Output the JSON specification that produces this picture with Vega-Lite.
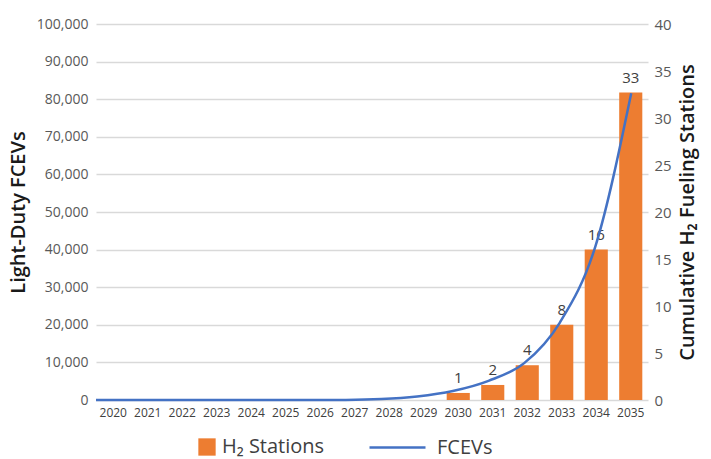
{
  "$schema": "https://vega.github.io/schema/vega-lite/v6.json",
  "width": 552,
  "height": 376,
  "padding": {"left": 8, "top": 17, "right": 12, "bottom": 0},
  "background": "white",
  "config": {
    "font": "Open Sans",
    "view": {"stroke": null},
    "axis": {"labelColor": "#595959", "titleColor": "#1a1a1a", "titleFontWeight": 600, "titleFontSize": 20, "ticks": false, "domain": false},
    "legend": {"labelFont": "Open Sans"}
  },
  "datasets": {
    "stations": [
      {"year": 2030, "stations": 0.75, "label": "1"},
      {"year": 2031, "stations": 1.6, "label": "2"},
      {"year": 2032, "stations": 3.7, "label": "4"},
      {"year": 2033, "stations": 8, "label": "8"},
      {"year": 2034, "stations": 16, "label": "16"},
      {"year": 2035, "stations": 32.7, "label": "33"}
    ],
    "fcev": [
      {"year": 2020, "fcev": 0},
      {"year": 2021, "fcev": 0},
      {"year": 2022, "fcev": 0},
      {"year": 2023, "fcev": 0},
      {"year": 2024, "fcev": 0},
      {"year": 2025, "fcev": 0},
      {"year": 2026, "fcev": 0},
      {"year": 2027, "fcev": 30},
      {"year": 2028, "fcev": 250},
      {"year": 2029, "fcev": 950},
      {"year": 2030, "fcev": 2400},
      {"year": 2031, "fcev": 5100},
      {"year": 2032, "fcev": 9800},
      {"year": 2033, "fcev": 20600},
      {"year": 2034, "fcev": 41000},
      {"year": 2035, "fcev": 81600}
    ]
  },
  "layer": [
    {
      "data": {"name": "stations"},
      "encoding": {
        "x": {
          "field": "year", "type": "ordinal",
          "scale": {"domain": [2020, 2021, 2022, 2023, 2024, 2025, 2026, 2027, 2028, 2029, 2030, 2031, 2032, 2033, 2034, 2035], "paddingInner": 0.33, "paddingOuter": 0.165},
          "axis": {"title": null, "labelAngle": 0, "labelFontSize": 12, "labelColor": "#404040", "labelPadding": 7}
        },
        "y": {
          "field": "stations", "type": "quantitative",
          "scale": {"domain": [0, 40]},
          "axis": {"orient": "right", "grid": false, "values": [0, 5, 10, 15, 20, 25, 30, 35, 40], "title": "Cumulative H₂ Fueling Stations", "titleAngle": 270, "titleBaseline": "top", "labelFontSize": 15, "labelPadding": 6, "titlePadding": 6}
        }
      },
      "layer": [
        {
          "mark": {"type": "bar"},
          "encoding": {
            "fill": {"datum": "H₂ Stations", "scale": {"range": ["#ED7D31"]}, "legend": {"orient": "none", "legendX": 101, "legendY": 413, "title": null, "symbolType": "square", "symbolSize": 300, "labelFontSize": 20, "labelColor": "#404040", "labelOffset": 5}}
          }
        },
        {
          "mark": {"type": "text", "baseline": "bottom", "dy": -7, "fontSize": 15, "color": "#404040"},
          "encoding": {"text": {"field": "label"}}
        }
      ]
    },
    {
      "data": {"name": "fcev"},
      "mark": {"type": "line", "interpolate": "monotone", "strokeWidth": 2.5},
      "encoding": {
        "x": {"field": "year", "type": "quantitative", "scale": {"domain": [2020, 2035.47], "nice": false, "zero": false}, "axis": null},
        "y": {
          "field": "fcev", "type": "quantitative",
          "scale": {"domain": [0, 100000]},
          "axis": {"orient": "left", "grid": true, "gridColor": "#d9d9d9", "gridWidth": 1.3, "values": [0, 10000, 20000, 30000, 40000, 50000, 60000, 70000, 80000, 90000, 100000], "format": ",.0f", "title": "Light-Duty FCEVs", "labelFontSize": 14, "labelPadding": 8, "titlePadding": 8}
        },
        "stroke": {"datum": "FCEVs", "scale": {"range": ["#4472C4"]}, "legend": {"orient": "none", "legendX": 290, "legendY": 412, "title": null, "symbolType": "M-2.8,0L2.8,0", "symbolSize": 400, "symbolStrokeWidth": 2.5, "labelFontSize": 20, "labelColor": "#404040", "labelOffset": 28}}
      }
    }
  ],
  "resolve": {"scale": {"x": "independent", "y": "independent", "fill": "independent", "stroke": "independent"}}
}
